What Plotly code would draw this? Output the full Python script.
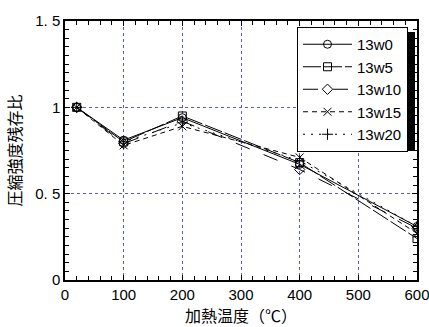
import plotly.graph_objects as go

temps = [20, 100, 200, 400, 600]
s_13w0 = [1.00, 0.81, 0.94, 0.67, 0.31]
s_13w5 = [1.00, 0.80, 0.95, 0.68, 0.24]
s_13w10 = [1.00, 0.79, 0.92, 0.64, 0.30]
s_13w15 = [1.00, 0.78, 0.89, 0.71, 0.27]
s_13w20 = [1.00, 0.80, 0.91, 0.69, 0.31]
names = ["13w0", "13w5", "13w10", "13w15", "13w20"]
symbols = ["circle-open", "square-open", "diamond-open", "x-thin-open", "cross-thin-open"]
dashes = ["solid", "18px,3px", "longdash", "5px,4px", "2px,6px"]
ytickvals = [0, 0.5, 1, 1.5]
yticktext = ["0", "0. 5", "1", "1. 5"]
xtickvals = [0, 100, 200, 300, 400, 500, 600]

series = [s_13w0, s_13w5, s_13w10, s_13w15, s_13w20]

fig = go.Figure()
for name, ys, sym, dash in zip(names, series, symbols, dashes):
    fig.add_trace(go.Scatter(
        x=temps, y=ys, name=name, mode="lines+markers",
        line=dict(color="black", width=1, dash=dash),
        marker=dict(symbol=sym, size=8, color="black", line=dict(color="black", width=1)),
    ))

font_num = "Liberation Sans, Arial, sans-serif"
font_jp = "Noto Sans CJK JP, sans-serif"

axis_common = dict(
    showline=True, linecolor="black", linewidth=1.5, mirror="ticks",
    ticks="inside", ticklen=5, tickcolor="black", tickwidth=1,
    showgrid=True, gridcolor="#5555ee", griddash="dot", gridwidth=1,
    zeroline=False, automargin=False, ticklabeloverflow="allow",
    tickfont=dict(family=font_num, size=15, color="black"),
)

fig.update_xaxes(
    range=[0, 600], tickvals=xtickvals,
    minor=dict(dtick=20, ticks="inside", ticklen=4, tickcolor="black", showgrid=False),
    title=dict(text="加熱温度（℃）", font=dict(family=font_jp, size=16, color="black"), standoff=4),
    **axis_common,
)
fig.update_yaxes(
    range=[0, 1.5], tickvals=ytickvals, ticktext=yticktext,
    minor=dict(dtick=0.05, ticks="inside", ticklen=4, tickcolor="black", showgrid=False),
    title=dict(text="圧縮強度残存比", font=dict(family=font_jp, size=16, color="black"), standoff=10),
    **axis_common,
)

def px_x(p):
    return (p - 65) / 352.0

def px_y(p):
    return (280 - p) / 259.0

fig.add_shape(type="rect", xref="paper", yref="paper",
              x0=px_x(303), x1=px_x(415), y0=px_y(151), y1=px_y(32),
              fillcolor="black", line=dict(width=0), layer="above")

fig.update_layout(
    width=429, height=327,
    margin=dict(l=65, r=12, t=21, b=47),
    paper_bgcolor="white", plot_bgcolor="white",
    showlegend=True,
    legend=dict(
        x=px_x(297), y=px_y(27), xanchor="left", yanchor="top",
        bgcolor="white", bordercolor="black", borderwidth=1,
        font=dict(family=font_num, size=15, color="black"),
        itemwidth=49, tracegroupgap=0,
    ),
)

fig.write_html("out.html")
